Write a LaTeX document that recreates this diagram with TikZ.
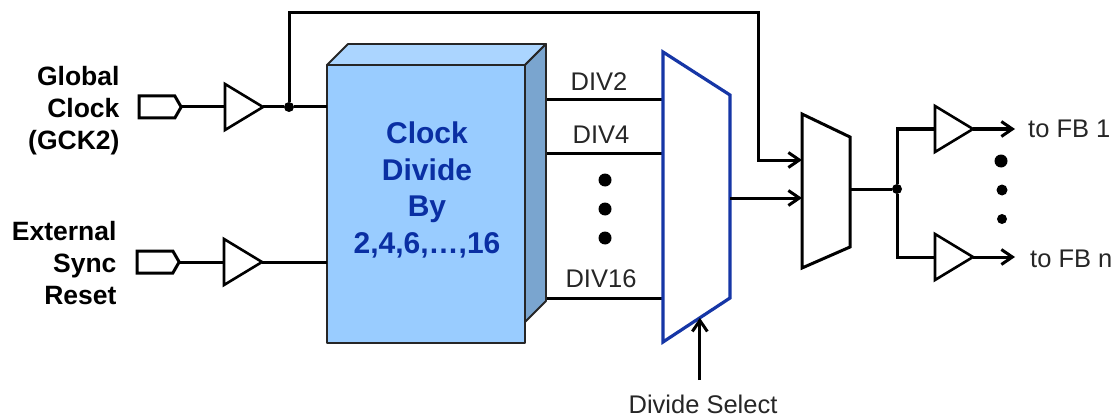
\documentclass[tikz,border=0pt]{standalone}
\usepackage{xcolor}
\usepackage{fontspec}
\setmainfont{Liberation Sans}
\usetikzlibrary{arrows.meta,positioning,shapes.geometric,shapes.symbols,calc}
\definecolor{boxfront}{HTML}{99CCFF}
\definecolor{boxtop}{HTML}{ABD5FF}
\definecolor{boxside}{HTML}{7AA5CF}
\definecolor{boxtext}{HTML}{0A2FA3}
\definecolor{muxblue}{HTML}{1636A6}
\tikzset{
  pad/.style    ={signal,signal to=east,signal pointer angle=120,draw=black,line width=3pt,
                  fill=white,minimum width=42pt,minimum height=22pt,inner sep=0pt,outer sep=0pt},
  buf/.style    ={isosceles triangle,isosceles triangle stretches=true,draw=black,line width=2.6pt,
                  fill=white,minimum height=38pt,minimum width=46pt,inner sep=0pt,outer sep=0pt,
                  anchor=lower side},
  blockface/.style={draw=black!85,line width=1.8pt,line join=round},
  pinlabel/.style={anchor=east,align=right,font=\fontsize{26.5}{32}\selectfont\bfseries},
  divlabel/.style={font=\fontsize{25.5}{30}\selectfont,text=black!85,inner sep=0pt},
  dot/.style    ={circle,fill=black,inner sep=0pt,minimum size=#1},
  wire/.style   ={line width=3pt,draw=black},
  flow/.style   ={-{Straight Barb[length=11pt,width=15pt,line width=3pt]},line width=3pt,draw=black}
}
\begin{document}
\begin{tikzpicture}[x=1pt,y=-1pt]
  \useasboundingbox (0,0) rectangle (1118,417);
  % divider block
  \node[blockface,fill=boxfront,minimum width=198pt,minimum height=278pt,inner sep=0pt,outer sep=0pt] (box) at (426,204) {};
  \node[text=boxtext,align=center,font=\fontsize{30}{36.5}\selectfont\bfseries] (boxtxt) at (427,190)
    {Clock\\Divide\\By\\2,4,6,\dots,16};
  \draw[blockface,fill=boxtop] (box.north west) -- ++(21,-21) -- ++(198,0) -- (box.north east) -- cycle;
  \draw[blockface,fill=boxside] (box.north east) -- ++(21,-21) -- ++(0,257) -- ++(-21,21) -- cycle;

  % inputs
  \node[pinlabel] (gcklabel) at (123,111) {Global\\Clock\\(GCK2)};
  \node[pinlabel] (rstlabel) at (120,263) {External\\Sync\\Reset};
  \node[pad] (gckpad) at (157,107) {};
  \node[pad] (rstpad) at (155,262) {};
  \node[buf] (gckbuf) at (225,107) {};
  \node[buf] (rstbuf) at (224,262) {};
  \node[dot=10pt] (gckdot) at (289,107) {};
  \draw[wire] (gckpad.east) -- (gckbuf.lower side);
  \draw[wire] (rstpad.east) -- (rstbuf.lower side);
  \draw[wire] (gckbuf.apex) -- (gckdot) -- (gckdot -| box.west);
  \draw[wire] (rstbuf.apex) -- (rstbuf.apex -| box.west);

  % first mux
  \coordinate (m1a) at (663,52);
  \coordinate (m1b) at (730,95);
  \coordinate (m1c) at (730,298);
  \coordinate (m1d) at (663,342);
  \coordinate (m1sel) at ($(m1c)!0.45!(m1d)$);
  \coordinate (m1out) at (730,198);
  \coordinate (div2) at (547,100);
  \coordinate (div4) at (547,153);
  \coordinate (div16) at (547,298);
  \draw[wire] (div2) -- (div2 -| m1a);
  \draw[wire] (div4) -- (div4 -| m1a);
  \draw[wire] (div16) -- (div16 -| m1a);
  \draw[line width=3.2pt,draw=muxblue,fill=white,line join=miter] (m1a) -- (m1b) -- (m1c) -- (m1d) -- cycle;
  \node[divlabel] (div2txt) at (599,82) {DIV2};
  \node[divlabel] (div4txt) at (601,135) {DIV4};
  \node[divlabel] (div16txt) at (601,279) {DIV16};
  \node[dot=13pt] (da) at (605,180) {};
  \node[dot=13pt] (db) at (605,209) {};
  \node[dot=13pt] (dc) at (605,238) {};
  \node[divlabel] (seltxt) at (703,404) {Divide Select};
  \coordinate (selfrom) at (m1sel |- 0,380);
  \draw[flow] (selfrom) -- (m1sel);

  % second mux
  \coordinate (m2a) at (802,114);
  \coordinate (m2b) at (850,137);
  \coordinate (m2c) at (850,247);
  \coordinate (m2d) at (802,268);
  \draw[line width=3pt,draw=black,fill=white] (m2a) -- (m2b) -- (m2c) -- (m2d) -- cycle;
  \coordinate (m2in1) at (802,160);
  \coordinate (m2in2) at (802,198);
  \coordinate (feedtop) at (758,13);
  \draw[flow] (gckdot) |- (feedtop) |- (m2in1);
  \draw[flow] (m1out) -- (m2in2);

  % outputs
  \node[dot=10pt] (outdot) at (897,189) {};
  \node[buf] (fbbuf1) at (935,129) {};
  \node[buf] (fbbufn) at (935,257) {};
  \coordinate (m2out) at (850,189);
  \coordinate (fbend1) at (1015,129);
  \coordinate (fbendn) at (1015,257);
  \draw[wire] (m2out) -- (outdot);
  \draw[wire] (fbbuf1.lower side) -| (outdot);
  \draw[wire] (fbbufn.lower side) -| (outdot);
  \draw[flow] (fbbuf1.apex) -- (fbend1);
  \draw[flow] (fbbufn.apex) -- (fbendn);
  \node[divlabel,anchor=west] (fb1txt) at (1028,129) {to FB 1};
  \node[divlabel,anchor=west] (fbntxt) at (1030,259) {to FB n};
  \node[dot=13pt] (de) at (1001,161) {};
  \node[dot=11pt] (df) at (1002,190) {};
  \node[dot=10pt] (dg) at (1002,219) {};
\end{tikzpicture}
\end{document}
